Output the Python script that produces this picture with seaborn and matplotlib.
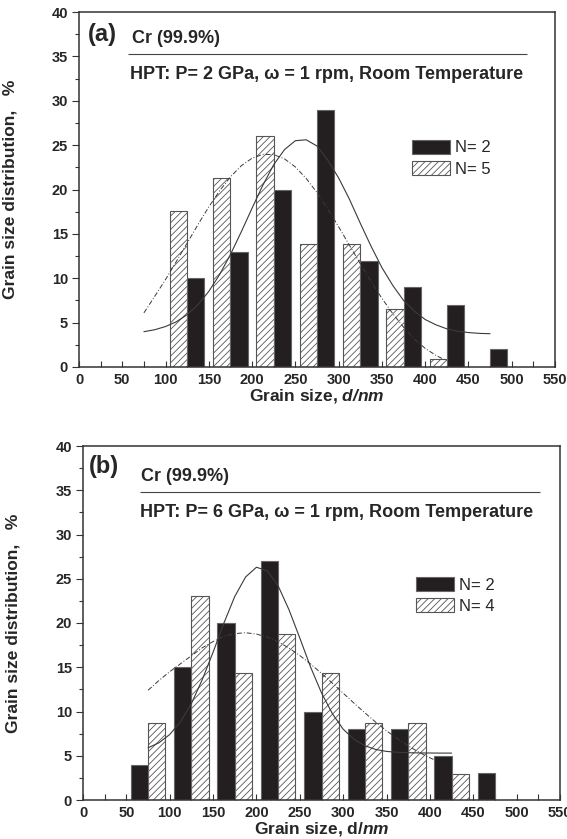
import matplotlib
matplotlib.use("Agg")
import matplotlib.pyplot as plt
import seaborn as sns
from matplotlib.patches import Patch
from matplotlib.ticker import MultipleLocator

# ---------------- data ----------------
# panel (a): P = 2 GPa
a_n2_x = [135, 185, 235, 285, 335, 385, 435, 485]
a_n2_y = [10, 13, 20, 29, 12, 9, 7, 2]
a_n5_x = [115, 165, 215, 265, 315, 365, 415]
a_n5_y = [17.6, 21.3, 26.0, 13.9, 13.9, 6.5, 0.9]

# fitted curves
a_fit2_x = [75, 87.5, 100, 112.5, 125, 137.5, 150, 162.5, 175, 187.5, 200, 212.5, 225,
            237.5, 250, 262.5, 275, 287.5, 300, 312.5, 325, 337.5, 350, 362.5, 375,
            387.5, 400, 412.5, 425, 437.5, 450, 462.5, 475]
a_fit2_y = [3.98, 4.20, 4.56, 5.10, 5.90, 7.03, 8.52, 10.42, 12.68, 15.23, 17.9, 20.5, 22.8,
            24.5, 25.5, 25.6, 24.9, 23.3, 21.3, 18.9, 16.2, 13.6, 11.2, 9.2, 7.5,
            6.3, 5.35, 4.75, 4.3, 4.03, 3.88, 3.79, 3.75]
a_fit5_x = [75, 87.5, 100, 112.5, 125, 137.5, 150, 162.5, 175, 187.5, 200, 212.5, 225,
            237.5, 250, 262.5, 275, 287.5, 300, 312.5, 325, 337.5, 350, 362.5, 375,
            387.5, 400, 412.5, 425]
a_fit5_y = [6.1, 7.96, 9.86, 11.89, 13.97, 16.05, 18.04, 19.86, 21.43, 22.67, 23.53, 23.96, 23.93,
            23.45, 22.54, 21.25, 19.65, 17.80, 15.80, 13.72, 11.64, 9.63, 7.74, 6.02, 4.48,
            3.15, 2.1, 1.3, 0.7]

# panel (b): P = 6 GPa
b_n2_x = [65, 115, 165, 215, 265, 315, 365, 415, 465]
b_n2_y = [4, 15, 20, 27, 10, 8, 8, 5, 3]
b_n4_x = [85, 135, 185, 235, 285, 335, 385, 435]
b_n4_y = [8.7, 23.1, 14.4, 18.8, 14.4, 8.7, 8.7, 2.9]

b_fit2_x = [75, 87.5, 100, 112.5, 125, 137.5, 150, 162.5, 175, 187.5, 200, 212.5, 225,
            237.5, 250, 262.5, 275, 287.5, 300, 312.5, 325, 337.5, 350, 362.5, 375,
            387.5, 400, 412.5, 425]
b_fit2_y = [5.9, 6.46, 7.40, 8.85, 10.9, 13.6, 16.7, 20.0, 23.0, 25.2, 26.3, 25.9, 24.2,
            21.5, 18.3, 15.0, 12.1, 9.76, 8.0, 6.86, 6.13, 5.71, 5.49, 5.39, 5.34,
            5.32, 5.31, 5.30, 5.30]
b_fit4_x = [75, 87.5, 100, 112.5, 125, 137.5, 150, 162.5, 175, 187.5, 200, 212.5, 225,
            237.5, 250, 262.5, 275, 287.5, 300, 312.5, 325, 337.5, 350, 362.5, 375,
            387.5, 400, 405]
b_fit4_y = [12.4, 13.5, 14.5, 15.4, 16.3, 17.2, 17.9, 18.5, 18.8, 18.9, 18.75, 18.41, 17.87,
            17.17, 16.32, 15.36, 14.31, 13.2, 12.07, 10.94, 9.85, 8.80, 7.82, 6.92, 6.11,
            5.39, 4.77, 4.54]

xticks = list(range(0, 551, 50))
yticks = list(range(0, 41, 5))

# ---------------- style ----------------
sns.set_style("ticks")
plt.rcParams["font.family"] = ["Liberation Sans", "DejaVu Sans"]
plt.rcParams["mathtext.fontset"] = "custom"
plt.rcParams["mathtext.rm"] = "Liberation Sans:bold"
plt.rcParams["mathtext.it"] = "Liberation Sans:italic:bold"
plt.rcParams["mathtext.bf"] = "Liberation Sans:bold"
plt.rcParams["mathtext.bfit"] = "Liberation Sans:italic:bold"
plt.rcParams["hatch.linewidth"] = 0.6

BLACK = "#231f20"
EDGE = "#555555"
LINE = "#3a3a3a"
SPINE = "#333333"

fig = plt.figure(figsize=(5.67, 8.39), dpi=100)
ax_a = fig.add_axes([79 / 567, 1 - 367 / 839, 476 / 567, 355 / 839])
ax_b = fig.add_axes([83 / 567, 1 - 800 / 839, 477 / 567, 354 / 839])


def panel(ax, bx, by, hx, hy, f1x, f1y, f2x, f2y, hatch_label, tag, pressure,
          xlabel, tag_pos, cr_pos, line_pos, hpt_pos, leg_pos):
    sns.barplot(x=hx, y=hy, native_scale=True, width=0.4, color="white",
                saturation=1, edgecolor=EDGE, linewidth=0.8, hatch="/////",
                errorbar=None, ax=ax)
    sns.barplot(x=bx, y=by, native_scale=True, width=0.4, color=BLACK,
                saturation=1, edgecolor="#666666", linewidth=0.8,
                errorbar=None, ax=ax)
    sns.lineplot(x=f1x, y=f1y, color=LINE, linewidth=0.8, ax=ax, zorder=3)
    sns.lineplot(x=f2x, y=f2y, color=LINE, linewidth=0.7, ax=ax, zorder=3,
                 linestyle=(0, (5, 2, 1, 2)))
    ax.set_xlim(0, 550)
    ax.set_ylim(0, 40)
    ax.set_xticks(xticks)
    ax.set_yticks(yticks)
    ax.xaxis.set_minor_locator(MultipleLocator(25))
    ax.yaxis.set_minor_locator(MultipleLocator(2.5))
    ax.tick_params(axis="x", which="both", direction="in", length=4, width=0.8,
                   color=SPINE, pad=4, labelsize=10.5)
    ax.tick_params(axis="y", which="major", direction="out", length=5, width=0.8,
                   color=SPINE, pad=3, labelsize=10.5)
    ax.tick_params(axis="y", which="minor", direction="out", length=3, width=0.8,
                   color=SPINE)
    for lab in ax.get_xticklabels() + ax.get_yticklabels():
        lab.set_fontweight("bold")
    for s in ax.spines.values():
        s.set_visible(True)
        s.set_linewidth(1.1)
        s.set_color(SPINE)
    ax.set_xlabel(xlabel, fontsize=12.5, fontweight="bold", labelpad=0)
    ax.set_ylabel("Grain size distribution,   %", fontsize=12.5, fontweight="bold")
    ax.yaxis.set_label_coords(-0.13, 0.5)

    ax.text(tag_pos[0], tag_pos[1], tag, fontsize=17, fontweight="bold", va="baseline")
    ax.text(cr_pos[0], cr_pos[1], "Cr (99.9%)", fontsize=13, fontweight="bold", va="baseline")
    ax.hlines(line_pos[2], line_pos[0], line_pos[1], color="#444444", linewidth=0.8)
    ax.text(hpt_pos[0], hpt_pos[1],
            "HPT: P= %s GPa, \u03c9 = 1 rpm, Room Temperature" % pressure,
            fontsize=13, fontweight="bold", va="baseline")

    handles = [Patch(facecolor=BLACK, edgecolor="#666666", linewidth=0.8),
               Patch(facecolor="white", edgecolor=EDGE, linewidth=0.8, hatch="/////")]
    ax.legend(handles, ["N= 2", hatch_label], loc="upper left",
              bbox_to_anchor=leg_pos, frameon=False, fontsize=12,
              handlelength=2.3, handleheight=0.9, handletextpad=0.3,
              labelspacing=0.35, borderpad=0, borderaxespad=0)


panel(ax_a, a_n2_x, a_n2_y, a_n5_x, a_n5_y, a_fit2_x, a_fit2_y, a_fit5_x, a_fit5_y,
      "N= 5", "(a)", "2", r"Grain size, $\mathbfit{d/nm}$",
      (10.4, 36.77), (61, 36.5), (57, 517.5, 35.27), (59.2, 32.45), (0.699, 0.64))
panel(ax_b, b_n2_x, b_n2_y, b_n4_x, b_n4_y, b_fit2_x, b_fit2_y, b_fit4_x, b_fit4_y,
      "N= 4", "(b)", "6", r"Grain size, d/$\mathbfit{nm}$",
      (6.5, 37.0), (67, 36.1), (66, 527, 34.76), (66, 31.98), (0.698, 0.63))

fig.savefig("out.png", dpi=100)
